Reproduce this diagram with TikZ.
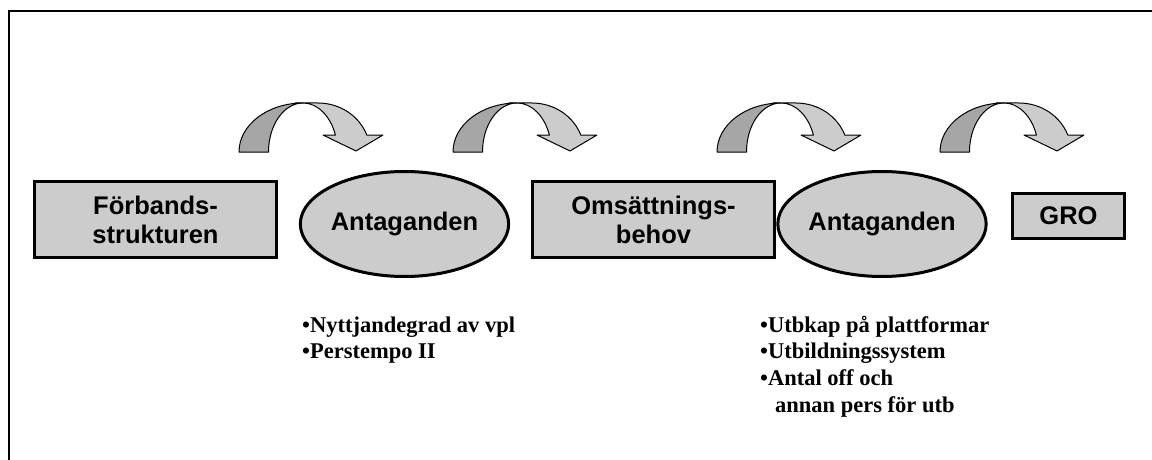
\documentclass[tikz,border=0pt]{standalone}
\usepackage{fontspec}
\setmainfont{Liberation Serif}
\newfontfamily\arialf{Liberation Sans}
\usetikzlibrary{shapes.geometric}
\definecolor{boxgray}{RGB}{204,204,204}
\definecolor{darkarc}{RGB}{166,166,166}
\begin{document}
\begin{tikzpicture}[x=1pt,y=-1pt,
  boxnode/.style={draw=black,line width=3pt,fill=boxgray,rectangle,inner sep=0pt,align=center,
    font=\arialf\bfseries\fontsize{25.5}{29}\selectfont},
  ellnode/.style={draw=black,line width=3pt,fill=boxgray,ellipse,inner sep=0pt,
    minimum width=174pt,minimum height=105pt,font=\arialf\bfseries\fontsize{25.5}{29}\selectfont},
  bullettext/.style={anchor=base west,inner sep=0pt,font=\bfseries\fontsize{22.5}{26}\selectfont},
  framestyle/.style={draw=black,line width=1.5pt},
  arcdark/.style={fill=darkarc,draw=black,line width=1pt,line join=round},
  arclight/.style={fill=boxgray,draw=black,line width=1pt,line join=round},
  carrow/.pic={
    \filldraw[arcdark] (0,0) arc[start angle=180,end angle=270,x radius=64,y radius=49]
      arc[start angle=270,end angle=180,x radius=34.5,y radius=49] -- cycle;
    \filldraw[arclight] (56,-49) -- (79,-49)
      arc[start angle=270,end angle=339.7,x radius=52,y radius=49]
      -- (144,-17) -- (117,-1) -- (84,-17) -- (96.4,-17)
      arc[start angle=339.7,end angle=270,x radius=34.5,y radius=49] -- cycle;
  }]
\useasboundingbox (0,0) rectangle (1152,460);
% frame
\coordinate (fbl) at (9,460);
\coordinate (ftl) at (9,11);
\coordinate (ftr) at (1152,11);
\draw[framestyle] (fbl) -- (ftl) -- (ftr);
% curved arrows
\pic at (239,152) {carrow};
\pic at (453,152) {carrow};
\pic at (717,152) {carrow};
\pic at (940,152) {carrow};
% boxes and ellipses
\node[boxnode,minimum width=242pt,minimum height=76pt] (b1) at (155.5,219.5) {Förbands-\\strukturen};
\node[ellnode] (e1) at (404.5,224) {Antaganden};
\node[boxnode,minimum width=242pt,minimum height=76pt] (b2) at (653.5,219.5) {Omsättnings-\\behov};
\node[ellnode] (e2) at (882,224) {Antaganden};
\node[boxnode,minimum width=112pt,minimum height=45pt] (gro) at (1068.5,216) {GRO};
% bullet texts
\node[bullettext] (t1) at (302,332) {•Nyttjandegrad av vpl};
\node[bullettext] (t2) at (302,358) {•Perstempo II};
\node[bullettext] (t3) at (760,332) {•Utbkap på plattformar};
\node[bullettext] (t4) at (760,358) {•Utbildningssystem};
\node[bullettext] (t5) at (760,385) {•Antal off och};
\node[bullettext] (t6) at (775,412) {annan pers för utb};
\end{tikzpicture}
\end{document}
